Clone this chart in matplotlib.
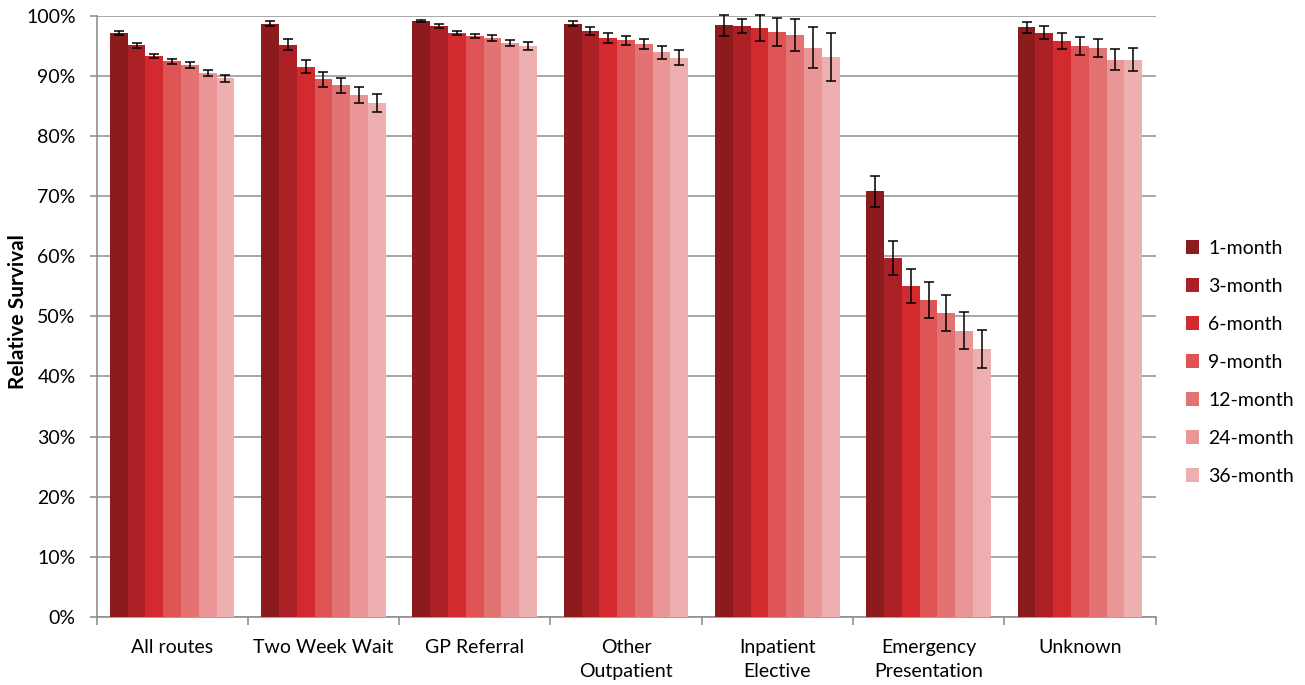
import matplotlib
matplotlib.use("Agg")
import matplotlib.pyplot as plt
import numpy as np
from matplotlib.ticker import FixedLocator, PercentFormatter

plt.rcParams['font.family'] = ['Lato', 'DejaVu Sans']

categories = ["All routes", "Two Week Wait", "GP Referral", "Other\nOutpatient",
              "Inpatient\nElective", "Emergency\nPresentation", "Unknown"]
series = ["1-month", "3-month", "6-month", "9-month", "12-month", "24-month", "36-month"]
colors = ["#8C1B1E", "#AA2024", "#D22A2E", "#DE5353", "#E37373", "#EA9696", "#EEAFB0"]

# values[series][category]
values = [
    [97.1, 98.7, 99.1, 98.7, 98.4, 70.8, 98.1],  # 1-month
    [95.1, 95.2, 98.3, 97.5, 98.3, 59.7, 97.2],  # 3-month
    [93.3, 91.5, 97.1, 96.3, 97.9, 55.1, 95.8],  # 6-month
    [92.4, 89.4, 96.6, 95.9, 97.3, 52.7, 95.0],  # 9-month
    [91.8, 88.4, 96.3, 95.3, 96.8, 50.6, 94.6],  # 12-month
    [90.5, 86.8, 95.5, 93.9, 94.7, 47.6, 92.7],  # 24-month
    [89.6, 85.5, 95.0, 93.0, 93.1, 44.6, 92.7],  # 36-month
]
errors = [
    [0.28, 0.47, 0.22, 0.47, 1.77, 2.57, 0.91],
    [0.40, 0.90, 0.33, 0.64, 1.19, 2.80, 1.05],
    [0.40, 1.08, 0.36, 0.78, 2.19, 2.85, 1.27],
    [0.40, 1.27, 0.39, 0.80, 2.38, 2.93, 1.50],
    [0.45, 1.25, 0.47, 0.89, 2.63, 3.00, 1.52],
    [0.50, 1.40, 0.50, 1.02, 3.35, 3.05, 1.77],
    [0.55, 1.55, 0.64, 1.25, 4.00, 3.13, 1.85],
]

fig = plt.figure(figsize=(13.05, 6.85), dpi=100)
ax = fig.add_axes([96.5 / 1305, 1 - 617 / 685, (1155.5 - 96.5) / 1305, (617 - 15.7) / 685])

n = len(series)
bw = 0.1175
x = np.arange(len(categories))
for i, (s, c) in enumerate(zip(series, colors)):
    pos = x + (i - (n - 1) / 2) * bw
    ax.bar(pos, values[i], width=bw, color=c, label=s, zorder=3,
           edgecolor=c, linewidth=0)
    eb = ax.errorbar(pos, values[i], yerr=errors[i], fmt='none', ecolor='black',
                     elinewidth=1.1, capsize=3.3, capthick=1.1, zorder=4)
    for art in eb.lines[1] + eb.lines[2]:
        art.set_clip_on(False)

ax.set_xlim(-0.5, len(categories) - 0.5)
ax.set_ylim(0, 100)
ax.yaxis.set_major_locator(FixedLocator(np.arange(0, 101, 10)))
ax.yaxis.set_major_formatter(PercentFormatter(decimals=0))
ax.grid(axis='y', color='#A0A0A0', linewidth=1.3, zorder=0)
ax.set_axisbelow(True)

fs = 14
ax.set_xticks(np.arange(-0.5, len(categories), 1.0))
ax.set_xticklabels([])
ax.set_xticks(x, minor=True)
ax.set_xticklabels(categories, minor=True, fontsize=fs, linespacing=1.45)
ax.tick_params(axis='x', which='major', length=6, color='#909090', width=1.2, direction='out')
ax.tick_params(axis='x', which='minor', length=0, pad=16)
ax.tick_params(axis='y', length=5, color='#909090', width=1.2, direction='out', pad=10, labelsize=fs)
for lab in ax.get_xticklabels(minor=True):
    lab.set_verticalalignment('top')

for side in ['top', 'right']:
    ax.spines[side].set_visible(False)
for side in ['left', 'bottom']:
    ax.spines[side].set_color('#909090')
    ax.spines[side].set_linewidth(1.2)

fig.text(18.5 / 1305, 1 - 312 / 685, "Relative Survival", rotation=90,
         ha='center', va='center', fontsize=15, fontweight='bold')

leg = ax.legend(loc='center left', bbox_to_anchor=(1178 / 1305, (685 - 362) / 685),
                bbox_transform=fig.transFigure, frameon=False, fontsize=fs,
                handlelength=0.7, handleheight=0.7, handletextpad=0.45,
                labelspacing=1.08, borderaxespad=0)

fig.savefig("out.png", dpi=100)
